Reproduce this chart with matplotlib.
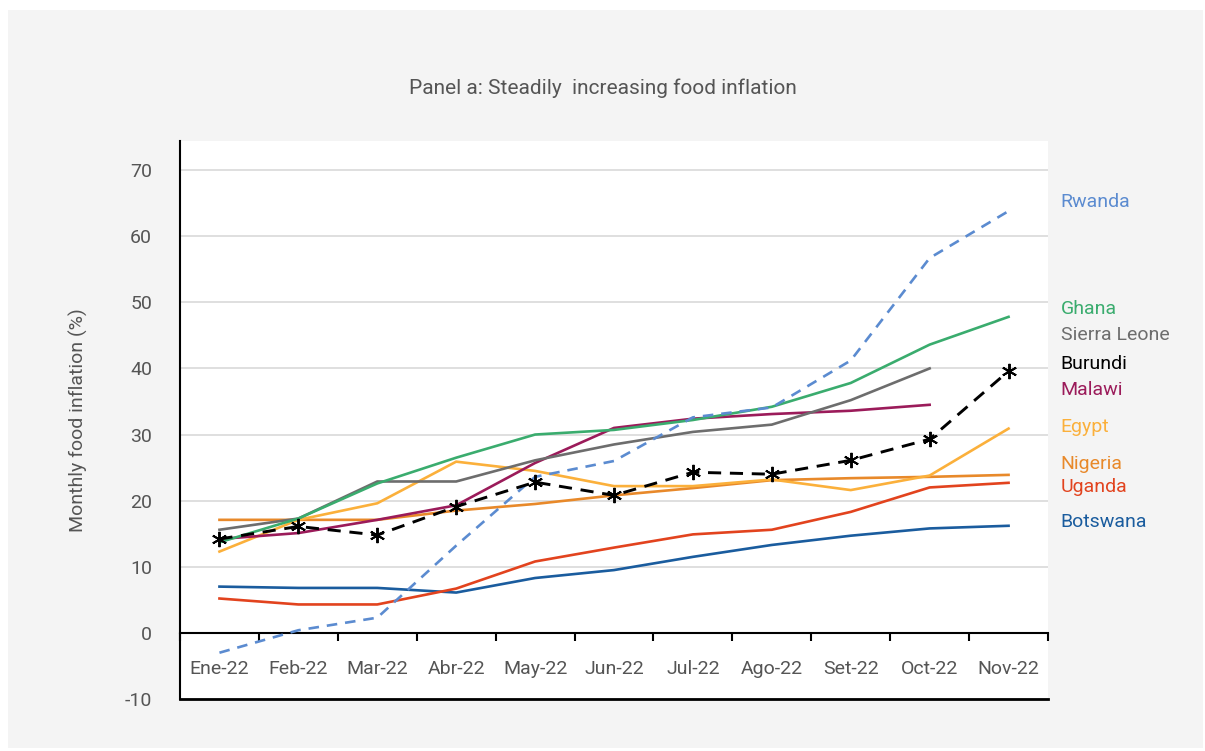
import matplotlib.pyplot as plt
import numpy as np
from matplotlib.patches import Rectangle

plt.rcParams["font.family"] = ["Roboto", "DejaVu Sans"]
plt.rcParams["axes.unicode_minus"] = False

MONTHS = ["Ene-22", "Feb-22", "Mar-22", "Abr-22", "May-22", "Jun-22",
          "Jul-22", "Ago-22", "Set-22", "Oct-22", "Nov-22"]

rwanda = [-3.0, 0.4, 2.3, 13.2, 23.6, 26.0, 32.6, 34.1, 41.2, 56.7, 63.8]
ghana = [13.7, 17.3, 22.6, 26.5, 30.0, 30.7, 32.2, 34.2, 37.8, 43.6, 47.8]
sierra_leone = [15.6, 17.3, 22.9, 22.9, 26.1, 28.5, 30.4, 31.5, 35.2, 40.0, np.nan]
burundi = [14.2, 16.1, 14.8, 19.1, 22.8, 20.8, 24.3, 24.0, 26.1, 29.3, 39.6]
malawi = [14.2, 15.1, 17.1, 19.3, 25.7, 31.0, 32.4, 33.1, 33.6, 34.5, np.nan]
egypt = [12.3, 17.1, 19.6, 25.9, 24.5, 22.2, 22.2, 23.2, 21.6, 23.8, 30.9]
nigeria = [17.1, 17.1, 17.1, 18.5, 19.5, 20.8, 21.9, 23.1, 23.4, 23.6, 23.9]
uganda = [5.2, 4.3, 4.3, 6.7, 10.8, 12.9, 14.9, 15.6, 18.3, 22.0, 22.7]
botswana = [7.0, 6.8, 6.8, 6.1, 8.3, 9.5, 11.5, 13.3, 14.7, 15.8, 16.2]

# name, values, colour, label height (data units)
SERIES = [
    ("Botswana", botswana, "#1a5c9e", 16.8),
    ("Uganda", uganda, "#e2431e", 22.1),
    ("Nigeria", nigeria, "#e8892a", 25.6),
    ("Egypt", egypt, "#fbb03b", 31.2),
    ("Malawi", malawi, "#9b1b5a", 36.7),
    ("Sierra Leone", sierra_leone, "#6d6d6d", 45.0),
    ("Ghana", ghana, "#3aac6e", 49.0),
    ("Rwanda", rwanda, "#5b8bd0", 65.2),
    ("Burundi", burundi, "#000000", 40.6),
]

TEXT = "#555555"

fig = plt.figure(figsize=(12.05, 7.51), dpi=100)
fig.patch.set_facecolor("white")
fig.add_artist(Rectangle((8 / 1205, 3 / 751), 1195 / 1205, 738 / 751,
                         transform=fig.transFigure, facecolor="#f4f4f4",
                         edgecolor="none", zorder=-10))

ax = fig.add_axes([180 / 1205, 1 - 699 / 751, 868 / 1205, 558 / 751])
ax.set_facecolor("white")

x = np.arange(len(MONTHS))
for name, vals, color, ly in SERIES:
    if name == "Rwanda":
        ax.plot(x, vals, color=color, lw=1.9, dashes=(4, 3), zorder=4)
    elif name == "Burundi":
        ax.plot(x, vals, color=color, lw=2.1, dashes=(4.5, 3),
                marker=(6, 2, 0), markersize=11, markeredgewidth=1.4, zorder=5)
    else:
        ax.plot(x, vals, color=color, lw=1.9, zorder=3)
    ax.text(10.66, ly, name, color=color, fontsize=14, va="center",
            ha="left", clip_on=False)

ax.set_xlim(-0.5, 10.5)
ax.set_ylim(-10, 74.4)
ax.set_yticks(np.arange(-10, 71, 10))
ax.tick_params(axis="y", length=0, pad=20, labelsize=14, labelcolor=TEXT)
ax.yaxis.grid(True, color="#d9d9d9", lw=1.2)
ax.set_axisbelow(True)

# category axis crossing at zero, ticks between categories
ax.spines["bottom"].set_position(("data", 0))
ax.spines["bottom"].set_linewidth(1.5)
ax.set_xticks(np.arange(-0.5, 10.6, 1))
ax.set_xticklabels([])
ax.tick_params(axis="x", length=6, width=1.5, direction="out")
for i, m in enumerate(MONTHS):
    ax.text(i, -5.5, m, ha="center", va="center", fontsize=14, color=TEXT)
ax.axhline(-10, color="black", lw=2, zorder=6, clip_on=False)

ax.spines["left"].set_linewidth(1.5)
ax.spines["top"].set_visible(False)
ax.spines["right"].set_visible(False)

ax.set_ylabel("Monthly food inflation (%)", fontsize=14, color=TEXT)
ax.yaxis.set_label_coords(-0.106, 0.5)

fig.text(0.5, 1 - 88 / 751, "Panel a: Steadily  increasing food inflation",
         ha="center", va="center", fontsize=15, color=TEXT)

fig.savefig("out.png", dpi=100)
